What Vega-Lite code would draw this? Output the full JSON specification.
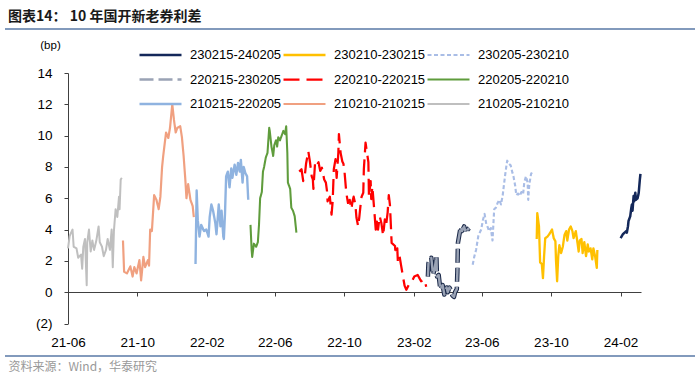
{
  "$schema": "https://vega.github.io/schema/vega-lite/v6.json",
  "autosize": "none",
  "width": 690,
  "height": 327,
  "padding": {"left": 5, "top": 29, "right": 5, "bottom": 25},
  "background": "white",
  "config": {"font": "Liberation Sans", "view": {"stroke": null}},
  "title": {"text": "图表14： 10 年国开新老券利差", "anchor": "start", "font": "Noto Sans CJK SC", "fontSize": 14, "fontWeight": "bold", "color": "#1a1a1a", "offset": 5, "dx": 3},
  "view": {"stroke": "#5a7aa6", "strokeWidth": 1.5, "strokeDash": [690, 327, 690, 327]},
  "datasets": {
    "d": [
      {"s": "210205-210210", "d": "2021-06-01", "v": 2.8},
      {"s": "210205-210210", "d": "2021-06-04", "v": 3.6},
      {"s": "210205-210210", "d": "2021-06-09", "v": 4.0},
      {"s": "210205-210210", "d": "2021-06-11", "v": 2.9},
      {"s": "210205-210210", "d": "2021-06-16", "v": 2.8},
      {"s": "210205-210210", "d": "2021-06-19", "v": 2.2},
      {"s": "210205-210210", "d": "2021-06-24", "v": 2.4},
      {"s": "210205-210210", "d": "2021-06-26", "v": 1.5},
      {"s": "210205-210210", "d": "2021-06-28", "v": 2.9},
      {"s": "210205-210210", "d": "2021-07-01", "v": 3.4},
      {"s": "210205-210210", "d": "2021-07-04", "v": 0.45},
      {"s": "210205-210210", "d": "2021-07-05", "v": 3.2},
      {"s": "210205-210210", "d": "2021-07-08", "v": 4.0},
      {"s": "210205-210210", "d": "2021-07-11", "v": 2.6},
      {"s": "210205-210210", "d": "2021-07-14", "v": 3.3},
      {"s": "210205-210210", "d": "2021-07-17", "v": 2.7},
      {"s": "210205-210210", "d": "2021-07-21", "v": 3.3},
      {"s": "210205-210210", "d": "2021-07-25", "v": 4.2},
      {"s": "210205-210210", "d": "2021-07-27", "v": 3.2},
      {"s": "210205-210210", "d": "2021-07-31", "v": 2.9},
      {"s": "210205-210210", "d": "2021-08-03", "v": 2.3},
      {"s": "210205-210210", "d": "2021-08-07", "v": 2.7},
      {"s": "210205-210210", "d": "2021-08-10", "v": 3.4},
      {"s": "210205-210210", "d": "2021-08-14", "v": 2.7},
      {"s": "210205-210210", "d": "2021-08-17", "v": 4.0},
      {"s": "210205-210210", "d": "2021-08-19", "v": 1.6},
      {"s": "210205-210210", "d": "2021-08-21", "v": 3.9},
      {"s": "210205-210210", "d": "2021-08-24", "v": 5.3},
      {"s": "210205-210210", "d": "2021-08-27", "v": 4.8},
      {"s": "210205-210210", "d": "2021-08-30", "v": 6.1},
      {"s": "210205-210210", "d": "2021-08-31", "v": 5.3},
      {"s": "210205-210210", "d": "2021-09-02", "v": 7.2},
      {"s": "210205-210210", "d": "2021-09-04", "v": 7.3},

      {"s": "210210-210215", "d": "2021-09-06", "v": 3.3},
      {"s": "210210-210215", "d": "2021-09-08", "v": 1.3},
      {"s": "210210-210215", "d": "2021-09-13", "v": 1.2},
      {"s": "210210-210215", "d": "2021-09-19", "v": 1.65},
      {"s": "210210-210215", "d": "2021-09-23", "v": 1.0},
      {"s": "210210-210215", "d": "2021-09-26", "v": 1.6},
      {"s": "210210-210215", "d": "2021-09-30", "v": 1.2},
      {"s": "210210-210215", "d": "2021-10-05", "v": 2.05},
      {"s": "210210-210215", "d": "2021-10-08", "v": 0.75},
      {"s": "210210-210215", "d": "2021-10-12", "v": 2.25},
      {"s": "210210-210215", "d": "2021-10-15", "v": 1.6},
      {"s": "210210-210215", "d": "2021-10-20", "v": 2.05},
      {"s": "210210-210215", "d": "2021-10-22", "v": 1.7},
      {"s": "210210-210215", "d": "2021-10-24", "v": 4.0},
      {"s": "210210-210215", "d": "2021-10-27", "v": 3.9},
      {"s": "210210-210215", "d": "2021-10-31", "v": 6.2},
      {"s": "210210-210215", "d": "2021-11-04", "v": 5.9},
      {"s": "210210-210215", "d": "2021-11-08", "v": 5.3},
      {"s": "210210-210215", "d": "2021-11-11", "v": 6.1},
      {"s": "210210-210215", "d": "2021-11-14", "v": 8.0},
      {"s": "210210-210215", "d": "2021-11-16", "v": 8.7},
      {"s": "210210-210215", "d": "2021-11-21", "v": 10.2},
      {"s": "210210-210215", "d": "2021-11-25", "v": 9.85},
      {"s": "210210-210215", "d": "2021-11-28", "v": 10.5},
      {"s": "210210-210215", "d": "2021-12-02", "v": 12.0},
      {"s": "210210-210215", "d": "2021-12-05", "v": 11.0},
      {"s": "210210-210215", "d": "2021-12-08", "v": 10.2},
      {"s": "210210-210215", "d": "2021-12-11", "v": 10.5},
      {"s": "210210-210215", "d": "2021-12-16", "v": 10.6},
      {"s": "210210-210215", "d": "2021-12-19", "v": 9.9},
      {"s": "210210-210215", "d": "2021-12-22", "v": 8.7},
      {"s": "210210-210215", "d": "2021-12-25", "v": 7.2},
      {"s": "210210-210215", "d": "2021-12-27", "v": 6.0},
      {"s": "210210-210215", "d": "2021-12-30", "v": 6.9},
      {"s": "210210-210215", "d": "2022-01-03", "v": 5.9},
      {"s": "210210-210215", "d": "2022-01-07", "v": 5.5},
      {"s": "210210-210215", "d": "2022-01-09", "v": 4.8},

      {"s": "210215-220205", "d": "2022-01-12", "v": 1.8},
      {"s": "210215-220205", "d": "2022-01-14", "v": 6.5},
      {"s": "210215-220205", "d": "2022-01-16", "v": 4.6},
      {"s": "210215-220205", "d": "2022-01-19", "v": 3.55},
      {"s": "210215-220205", "d": "2022-01-22", "v": 4.3},
      {"s": "210215-220205", "d": "2022-01-27", "v": 3.9},
      {"s": "210215-220205", "d": "2022-01-31", "v": 4.0},
      {"s": "210215-220205", "d": "2022-02-04", "v": 3.55},
      {"s": "210215-220205", "d": "2022-02-06", "v": 4.8},
      {"s": "210215-220205", "d": "2022-02-09", "v": 5.6},
      {"s": "210215-220205", "d": "2022-02-12", "v": 5.2},
      {"s": "210215-220205", "d": "2022-02-16", "v": 4.4},
      {"s": "210215-220205", "d": "2022-02-18", "v": 3.7},
      {"s": "210215-220205", "d": "2022-02-22", "v": 5.6},
      {"s": "210215-220205", "d": "2022-02-25", "v": 4.2},
      {"s": "210215-220205", "d": "2022-02-27", "v": 5.2},
      {"s": "210215-220205", "d": "2022-03-02", "v": 3.55},
      {"s": "210215-220205", "d": "2022-03-03", "v": 3.4},
      {"s": "210215-220205", "d": "2022-03-05", "v": 5.0},
      {"s": "210215-220205", "d": "2022-03-07", "v": 7.4},
      {"s": "210215-220205", "d": "2022-03-10", "v": 7.7},
      {"s": "210215-220205", "d": "2022-03-13", "v": 6.7},
      {"s": "210215-220205", "d": "2022-03-16", "v": 7.9},
      {"s": "210215-220205", "d": "2022-03-18", "v": 7.3},
      {"s": "210215-220205", "d": "2022-03-22", "v": 8.15},
      {"s": "210215-220205", "d": "2022-03-25", "v": 7.5},
      {"s": "210215-220205", "d": "2022-03-28", "v": 8.25},
      {"s": "210215-220205", "d": "2022-03-31", "v": 7.7},
      {"s": "210215-220205", "d": "2022-04-02", "v": 8.45},
      {"s": "210215-220205", "d": "2022-04-05", "v": 7.0},
      {"s": "210215-220205", "d": "2022-04-07", "v": 8.0},
      {"s": "210215-220205", "d": "2022-04-10", "v": 7.6},
      {"s": "210215-220205", "d": "2022-04-13", "v": 7.4},
      {"s": "210215-220205", "d": "2022-04-15", "v": 5.9},

      {"s": "220205-220210", "d": "2022-04-19", "v": 4.3},
      {"s": "220205-220210", "d": "2022-04-21", "v": 2.7},
      {"s": "220205-220210", "d": "2022-04-22", "v": 2.25},
      {"s": "220205-220210", "d": "2022-04-25", "v": 3.1},
      {"s": "220205-220210", "d": "2022-04-29", "v": 2.9},
      {"s": "220205-220210", "d": "2022-05-02", "v": 3.2},
      {"s": "220205-220210", "d": "2022-05-04", "v": 4.3},
      {"s": "220205-220210", "d": "2022-05-06", "v": 6.0},
      {"s": "220205-220210", "d": "2022-05-09", "v": 6.4},
      {"s": "220205-220210", "d": "2022-05-11", "v": 7.7},
      {"s": "220205-220210", "d": "2022-05-13", "v": 8.0},
      {"s": "220205-220210", "d": "2022-05-16", "v": 8.6},
      {"s": "220205-220210", "d": "2022-05-19", "v": 8.9},
      {"s": "220205-220210", "d": "2022-05-22", "v": 10.5},
      {"s": "220205-220210", "d": "2022-05-23", "v": 10.3},
      {"s": "220205-220210", "d": "2022-05-26", "v": 9.3},
      {"s": "220205-220210", "d": "2022-05-29", "v": 8.7},
      {"s": "220205-220210", "d": "2022-05-31", "v": 9.4},
      {"s": "220205-220210", "d": "2022-06-03", "v": 9.7},
      {"s": "220205-220210", "d": "2022-06-05", "v": 9.3},
      {"s": "220205-220210", "d": "2022-06-07", "v": 9.9},
      {"s": "220205-220210", "d": "2022-06-10", "v": 9.7},
      {"s": "220205-220210", "d": "2022-06-13", "v": 10.0},
      {"s": "220205-220210", "d": "2022-06-16", "v": 10.3},
      {"s": "220205-220210", "d": "2022-06-19", "v": 10.1},
      {"s": "220205-220210", "d": "2022-06-21", "v": 10.6},
      {"s": "220205-220210", "d": "2022-06-23", "v": 8.9},
      {"s": "220205-220210", "d": "2022-06-24", "v": 7.0},
      {"s": "220205-220210", "d": "2022-06-28", "v": 6.6},
      {"s": "220205-220210", "d": "2022-06-30", "v": 5.4},
      {"s": "220205-220210", "d": "2022-07-03", "v": 5.2},
      {"s": "220205-220210", "d": "2022-07-06", "v": 4.85},
      {"s": "220205-220210", "d": "2022-07-09", "v": 3.8},

      {"s": "220210-220215", "d": "2022-07-14", "v": 7.7},
      {"s": "220210-220215", "d": "2022-07-18", "v": 7.85},
      {"s": "220210-220215", "d": "2022-07-21", "v": 7.1},
      {"s": "220210-220215", "d": "2022-07-24", "v": 7.5},
      {"s": "220210-220215", "d": "2022-07-26", "v": 8.2},
      {"s": "220210-220215", "d": "2022-07-30", "v": 9.0},
      {"s": "220210-220215", "d": "2022-08-02", "v": 8.3},
      {"s": "220210-220215", "d": "2022-08-05", "v": 7.4},
      {"s": "220210-220215", "d": "2022-08-07", "v": 7.2},
      {"s": "220210-220215", "d": "2022-08-08", "v": 6.6},
      {"s": "220210-220215", "d": "2022-08-11", "v": 8.3},
      {"s": "220210-220215", "d": "2022-08-14", "v": 8.1},
      {"s": "220210-220215", "d": "2022-08-17", "v": 8.3},
      {"s": "220210-220215", "d": "2022-08-20", "v": 7.75},
      {"s": "220210-220215", "d": "2022-08-23", "v": 7.95},
      {"s": "220210-220215", "d": "2022-08-27", "v": 7.2},
      {"s": "220210-220215", "d": "2022-08-30", "v": 7.0},
      {"s": "220210-220215", "d": "2022-09-01", "v": 6.45},
      {"s": "220210-220215", "d": "2022-09-02", "v": 5.8},
      {"s": "220210-220215", "d": "2022-09-06", "v": 6.1},
      {"s": "220210-220215", "d": "2022-09-09", "v": 4.95},
      {"s": "220210-220215", "d": "2022-09-11", "v": 5.8},
      {"s": "220210-220215", "d": "2022-09-13", "v": 7.85},
      {"s": "220210-220215", "d": "2022-09-16", "v": 8.5},
      {"s": "220210-220215", "d": "2022-09-18", "v": 7.3},
      {"s": "220210-220215", "d": "2022-09-21", "v": 8.9},
      {"s": "220210-220215", "d": "2022-09-22", "v": 10.1},
      {"s": "220210-220215", "d": "2022-09-25", "v": 8.9},
      {"s": "220210-220215", "d": "2022-09-28", "v": 8.35},
      {"s": "220210-220215", "d": "2022-09-30", "v": 8.2},
      {"s": "220210-220215", "d": "2022-10-02", "v": 7.65},
      {"s": "220210-220215", "d": "2022-10-05", "v": 6.35},
      {"s": "220210-220215", "d": "2022-10-08", "v": 5.7},
      {"s": "220210-220215", "d": "2022-10-11", "v": 5.9},
      {"s": "220210-220215", "d": "2022-10-14", "v": 5.3},
      {"s": "220210-220215", "d": "2022-10-16", "v": 5.8},
      {"s": "220210-220215", "d": "2022-10-18", "v": 6.1},
      {"s": "220210-220215", "d": "2022-10-21", "v": 5.6},
      {"s": "220210-220215", "d": "2022-10-23", "v": 4.75},
      {"s": "220210-220215", "d": "2022-10-26", "v": 4.2},
      {"s": "220210-220215", "d": "2022-10-28", "v": 4.8},
      {"s": "220210-220215", "d": "2022-10-30", "v": 5.5},
      {"s": "220210-220215", "d": "2022-11-01", "v": 6.1},
      {"s": "220210-220215", "d": "2022-11-04", "v": 6.35},
      {"s": "220210-220215", "d": "2022-11-05", "v": 7.85},
      {"s": "220210-220215", "d": "2022-11-08", "v": 9.55},
      {"s": "220210-220215", "d": "2022-11-11", "v": 8.8},
      {"s": "220210-220215", "d": "2022-11-13", "v": 8.3},
      {"s": "220210-220215", "d": "2022-11-14", "v": 6.1},
      {"s": "220210-220215", "d": "2022-11-17", "v": 7.1},
      {"s": "220210-220215", "d": "2022-11-18", "v": 5.95},
      {"s": "220210-220215", "d": "2022-11-20", "v": 6.75},
      {"s": "220210-220215", "d": "2022-11-23", "v": 5.4},
      {"s": "220210-220215", "d": "2022-11-26", "v": 4.0},
      {"s": "220210-220215", "d": "2022-11-28", "v": 4.5},
      {"s": "220210-220215", "d": "2022-11-30", "v": 4.0},
      {"s": "220210-220215", "d": "2022-12-03", "v": 4.85},
      {"s": "220210-220215", "d": "2022-12-06", "v": 4.4},
      {"s": "220210-220215", "d": "2022-12-09", "v": 3.6},
      {"s": "220210-220215", "d": "2022-12-12", "v": 4.65},
      {"s": "220210-220215", "d": "2022-12-14", "v": 4.2},
      {"s": "220210-220215", "d": "2022-12-17", "v": 5.1},
      {"s": "220210-220215", "d": "2022-12-19", "v": 6.2},
      {"s": "220210-220215", "d": "2022-12-21", "v": 5.6},
      {"s": "220210-220215", "d": "2022-12-23", "v": 4.0},
      {"s": "220210-220215", "d": "2022-12-24", "v": 3.15},
      {"s": "220210-220215", "d": "2022-12-30", "v": 2.95},
      {"s": "220210-220215", "d": "2022-12-31", "v": 2.4},
      {"s": "220210-220215", "d": "2023-01-03", "v": 2.8},
      {"s": "220210-220215", "d": "2023-01-04", "v": 1.95},
      {"s": "220210-220215", "d": "2023-01-07", "v": 2.3},
      {"s": "220210-220215", "d": "2023-01-10", "v": 1.65},
      {"s": "220210-220215", "d": "2023-01-13", "v": 1.0},
      {"s": "220210-220215", "d": "2023-01-16", "v": 0.4},
      {"s": "220210-220215", "d": "2023-01-19", "v": 0.15},
      {"s": "220210-220215", "d": "2023-01-23", "v": 0.45},
      {"s": "220210-220215", "d": "2023-01-27", "v": 0.55},
      {"s": "220210-220215", "d": "2023-02-02", "v": 1.0},
      {"s": "220210-220215", "d": "2023-02-08", "v": 1.1},
      {"s": "220210-220215", "d": "2023-02-11", "v": 0.9},
      {"s": "220210-220215", "d": "2023-02-14", "v": 0.7},
      {"s": "220210-220215", "d": "2023-02-20", "v": 0.8},
      {"s": "220210-220215", "d": "2023-02-23", "v": 0.35},

      {"s": "220215-230205", "d": "2023-02-26", "v": 1.0},
      {"s": "220215-230205", "d": "2023-02-27", "v": 1.85},
      {"s": "220215-230205", "d": "2023-03-04", "v": 2.2},
      {"s": "220215-230205", "d": "2023-03-07", "v": 1.1},
      {"s": "220215-230205", "d": "2023-03-10", "v": 1.5},
      {"s": "220215-230205", "d": "2023-03-13", "v": 2.3},
      {"s": "220215-230205", "d": "2023-03-14", "v": 1.0},
      {"s": "220215-230205", "d": "2023-03-17", "v": 1.1},
      {"s": "220215-230205", "d": "2023-03-20", "v": 0.15},
      {"s": "220215-230205", "d": "2023-03-24", "v": 0.45},
      {"s": "220215-230205", "d": "2023-03-27", "v": -0.15},
      {"s": "220215-230205", "d": "2023-03-31", "v": 0.3},
      {"s": "220215-230205", "d": "2023-04-02", "v": 0.0},
      {"s": "220215-230205", "d": "2023-04-05", "v": 0.3},
      {"s": "220215-230205", "d": "2023-04-08", "v": 0.1},
      {"s": "220215-230205", "d": "2023-04-10", "v": -0.2},
      {"s": "220215-230205", "d": "2023-04-13", "v": -0.3},
      {"s": "220215-230205", "d": "2023-04-15", "v": 0.0},
      {"s": "220215-230205", "d": "2023-04-18", "v": 0.2},
      {"s": "220215-230205", "d": "2023-04-19", "v": 1.3},
      {"s": "220215-230205", "d": "2023-04-20", "v": 3.15},
      {"s": "220215-230205", "d": "2023-04-25", "v": 4.2},
      {"s": "220215-230205", "d": "2023-04-27", "v": 3.9},
      {"s": "220215-230205", "d": "2023-05-01", "v": 4.2},
      {"s": "220215-230205", "d": "2023-05-04", "v": 3.75},
      {"s": "220215-230205", "d": "2023-05-07", "v": 4.0},
      {"s": "220215-230205", "d": "2023-05-10", "v": 4.1},

      {"s": "230205-230210", "d": "2023-05-16", "v": 1.75},
      {"s": "230205-230210", "d": "2023-05-19", "v": 2.3},
      {"s": "230205-230210", "d": "2023-05-22", "v": 2.7},
      {"s": "230205-230210", "d": "2023-05-26", "v": 3.6},
      {"s": "230205-230210", "d": "2023-05-31", "v": 4.0},
      {"s": "230205-230210", "d": "2023-06-03", "v": 4.6},
      {"s": "230205-230210", "d": "2023-06-06", "v": 5.0},
      {"s": "230205-230210", "d": "2023-06-09", "v": 4.35},
      {"s": "230205-230210", "d": "2023-06-11", "v": 4.2},
      {"s": "230205-230210", "d": "2023-06-14", "v": 3.9},
      {"s": "230205-230210", "d": "2023-06-17", "v": 4.1},
      {"s": "230205-230210", "d": "2023-06-20", "v": 3.3},
      {"s": "230205-230210", "d": "2023-06-22", "v": 4.65},
      {"s": "230205-230210", "d": "2023-06-23", "v": 5.3},
      {"s": "230205-230210", "d": "2023-06-26", "v": 5.4},
      {"s": "230205-230210", "d": "2023-06-29", "v": 5.7},
      {"s": "230205-230210", "d": "2023-07-02", "v": 5.9},
      {"s": "230205-230210", "d": "2023-07-05", "v": 5.6},
      {"s": "230205-230210", "d": "2023-07-08", "v": 6.2},
      {"s": "230205-230210", "d": "2023-07-10", "v": 6.8},
      {"s": "230205-230210", "d": "2023-07-12", "v": 7.4},
      {"s": "230205-230210", "d": "2023-07-15", "v": 8.2},
      {"s": "230205-230210", "d": "2023-07-16", "v": 8.4},
      {"s": "230205-230210", "d": "2023-07-19", "v": 8.2},
      {"s": "230205-230210", "d": "2023-07-22", "v": 8.1},
      {"s": "230205-230210", "d": "2023-07-25", "v": 7.65},
      {"s": "230205-230210", "d": "2023-07-27", "v": 7.4},
      {"s": "230205-230210", "d": "2023-07-30", "v": 6.8},
      {"s": "230205-230210", "d": "2023-08-01", "v": 6.2},
      {"s": "230205-230210", "d": "2023-08-04", "v": 6.3},
      {"s": "230205-230210", "d": "2023-08-07", "v": 6.15},
      {"s": "230205-230210", "d": "2023-08-10", "v": 6.4},
      {"s": "230205-230210", "d": "2023-08-13", "v": 6.25},
      {"s": "230205-230210", "d": "2023-08-15", "v": 7.0},
      {"s": "230205-230210", "d": "2023-08-18", "v": 7.4},
      {"s": "230205-230210", "d": "2023-08-21", "v": 7.0},
      {"s": "230205-230210", "d": "2023-08-22", "v": 5.9},
      {"s": "230205-230210", "d": "2023-08-24", "v": 6.9},
      {"s": "230205-230210", "d": "2023-08-27", "v": 7.55},
      {"s": "230205-230210", "d": "2023-08-30", "v": 7.75},

      {"s": "230210-230215", "d": "2023-09-06", "v": 3.4},
      {"s": "230210-230215", "d": "2023-09-07", "v": 5.05},
      {"s": "230210-230215", "d": "2023-09-10", "v": 4.2},
      {"s": "230210-230215", "d": "2023-09-12", "v": 1.9},
      {"s": "230210-230215", "d": "2023-09-15", "v": 1.8},
      {"s": "230210-230215", "d": "2023-09-17", "v": 0.9},
      {"s": "230210-230215", "d": "2023-09-19", "v": 2.3},
      {"s": "230210-230215", "d": "2023-09-21", "v": 3.45},
      {"s": "230210-230215", "d": "2023-09-25", "v": 3.55},
      {"s": "230210-230215", "d": "2023-09-29", "v": 3.75},
      {"s": "230210-230215", "d": "2023-10-03", "v": 4.0},
      {"s": "230210-230215", "d": "2023-10-06", "v": 3.45},
      {"s": "230210-230215", "d": "2023-10-09", "v": 3.25},
      {"s": "230210-230215", "d": "2023-10-10", "v": 2.05},
      {"s": "230210-230215", "d": "2023-10-12", "v": 0.7},
      {"s": "230210-230215", "d": "2023-10-14", "v": 2.3},
      {"s": "230210-230215", "d": "2023-10-16", "v": 3.0},
      {"s": "230210-230215", "d": "2023-10-19", "v": 2.5},
      {"s": "230210-230215", "d": "2023-10-22", "v": 2.9},
      {"s": "230210-230215", "d": "2023-10-25", "v": 3.65},
      {"s": "230210-230215", "d": "2023-10-28", "v": 3.9},
      {"s": "230210-230215", "d": "2023-10-30", "v": 3.3},
      {"s": "230210-230215", "d": "2023-11-02", "v": 4.0},
      {"s": "230210-230215", "d": "2023-11-05", "v": 4.2},
      {"s": "230210-230215", "d": "2023-11-08", "v": 3.9},
      {"s": "230210-230215", "d": "2023-11-10", "v": 3.45},
      {"s": "230210-230215", "d": "2023-11-14", "v": 3.9},
      {"s": "230210-230215", "d": "2023-11-16", "v": 3.4},
      {"s": "230210-230215", "d": "2023-11-19", "v": 2.6},
      {"s": "230210-230215", "d": "2023-11-21", "v": 3.3},
      {"s": "230210-230215", "d": "2023-11-24", "v": 3.4},
      {"s": "230210-230215", "d": "2023-11-26", "v": 2.5},
      {"s": "230210-230215", "d": "2023-11-29", "v": 3.2},
      {"s": "230210-230215", "d": "2023-12-02", "v": 2.3},
      {"s": "230210-230215", "d": "2023-12-05", "v": 3.05},
      {"s": "230210-230215", "d": "2023-12-07", "v": 2.6},
      {"s": "230210-230215", "d": "2023-12-10", "v": 2.8},
      {"s": "230210-230215", "d": "2023-12-13", "v": 2.1},
      {"s": "230210-230215", "d": "2023-12-15", "v": 2.8},
      {"s": "230210-230215", "d": "2023-12-18", "v": 2.3},
      {"s": "230210-230215", "d": "2023-12-21", "v": 1.55},
      {"s": "230210-230215", "d": "2023-12-22", "v": 2.7},

      {"s": "230215-240205", "d": "2024-02-01", "v": 3.45},
      {"s": "230215-240205", "d": "2024-02-05", "v": 3.7},
      {"s": "230215-240205", "d": "2024-02-08", "v": 3.8},
      {"s": "230215-240205", "d": "2024-02-11", "v": 3.9},
      {"s": "230215-240205", "d": "2024-02-12", "v": 3.8},
      {"s": "230215-240205", "d": "2024-02-14", "v": 4.2},
      {"s": "230215-240205", "d": "2024-02-15", "v": 4.55},
      {"s": "230215-240205", "d": "2024-02-18", "v": 4.85},
      {"s": "230215-240205", "d": "2024-02-20", "v": 5.4},
      {"s": "230215-240205", "d": "2024-02-21", "v": 5.6},
      {"s": "230215-240205", "d": "2024-02-22", "v": 5.2},
      {"s": "230215-240205", "d": "2024-02-24", "v": 6.15},
      {"s": "230215-240205", "d": "2024-02-25", "v": 5.8},
      {"s": "230215-240205", "d": "2024-02-27", "v": 6.35},
      {"s": "230215-240205", "d": "2024-02-28", "v": 5.9},
      {"s": "230215-240205", "d": "2024-03-02", "v": 6.0},
      {"s": "230215-240205", "d": "2024-03-04", "v": 6.35},
      {"s": "230215-240205", "d": "2024-03-06", "v": 7.2},
      {"s": "230215-240205", "d": "2024-03-07", "v": 7.55}
    ]
  },
  "data": {"name": "d"},
  "layer": [
    {
      "transform": [{"filter": "datum.s == '220215-230205'"}],
      "mark": {"type": "line", "color": "#1c2a4a", "strokeWidth": 4.5, "strokeDash": [14, 5], "strokeJoin": "round"},
      "encoding": {
        "x": {"field": "d", "type": "temporal"},
        "y": {"field": "v", "type": "quantitative"}
      }
    },
    {
      "mark": {"type": "line", "strokeJoin": "round"},
      "encoding": {
        "x": {
          "field": "d", "type": "temporal",
          "scale": {"type": "utc", "domain": [{"year": 2021, "month": 6, "date": 1, "utc": true}, {"year": 2024, "month": 3, "date": 8, "utc": true}], "range": [63, 636]},
          "axis": {
            "values": [
              {"year": 2021, "month": 6, "date": 1, "utc": true},
              {"year": 2021, "month": 10, "date": 1, "utc": true},
              {"year": 2022, "month": 2, "date": 1, "utc": true},
              {"year": 2022, "month": 6, "date": 1, "utc": true},
              {"year": 2022, "month": 10, "date": 1, "utc": true},
              {"year": 2023, "month": 2, "date": 1, "utc": true},
              {"year": 2023, "month": 6, "date": 1, "utc": true},
              {"year": 2023, "month": 10, "date": 1, "utc": true},
              {"year": 2024, "month": 2, "date": 1, "utc": true}
            ],
            "labelExpr": "utcFormat(datum.value, '%y-%m')",
            "offset": -64, "grid": false,
            "domainColor": "#404040", "domainWidth": 1,
            "tickColor": "#404040", "tickSize": 4,
            "labelFont": "Liberation Sans", "labelFontSize": 13.5, "labelColor": "#000000",
            "labelPadding": 39, "labelFlush": false, "labelOverlap": false,
            "title": "资料来源：Wind，华泰研究",
            "titleFont": "Noto Sans CJK SC", "titleFontSize": 12, "titleFontWeight": "normal", "titleColor": "#999999",
            "titleX": 3, "titleY": 74, "titleAlign": "left", "titleAnchor": null, "titleBaseline": "middle"
          }
        },
        "y": {
          "field": "v", "type": "quantitative",
          "scale": {"domain": [-2, 14], "range": [294.5, 44], "nice": false, "zero": false},
          "axis": {
            "values": [-2, 0, 2, 4, 6, 8, 10, 12, 14],
            "labelExpr": "datum.value < 0 ? '(' + abs(datum.value) + ')' : datum.label",
            "offset": -63, "grid": false,
            "domainColor": "#404040", "tickColor": "#404040", "tickSize": 4,
            "labelFont": "Liberation Sans", "labelFontSize": 13.5, "labelColor": "#000000", "labelPadding": 12,
            "title": "(bp)", "titleAngle": 0, "titleX": -18, "titleY": 16,
            "titleAlign": "center", "titleBaseline": "middle",
            "titleFont": "Liberation Sans", "titleFontSize": 11.5, "titleFontWeight": "normal", "titleColor": "#000000"
          }
        },
        "color": {
          "field": "s", "type": "nominal",
          "scale": {
            "domain": ["230215-240205", "220215-230205", "210215-220205", "230210-230215", "220210-220215", "210210-210215", "230205-230210", "220205-220210", "210205-210210"],
            "range": ["#14285a", "#9aa3b5", "#8fb3e0", "#ffc000", "#ff0000", "#f0a080", "#a9bde6", "#5f9c3c", "#bfbfbf"]
          },
          "legend": {
            "title": null, "orient": "none", "legendX": 133, "legendY": 18, "columns": 3,
            "symbolType": "stroke", "symbolSize": 1764, "symbolStrokeWidth": 3, "clipHeight": 16,
            "labelFont": "Liberation Sans", "labelFontSize": 13, "labelColor": "#000000",
            "labelOffset": 7, "columnPadding": -8, "rowPadding": 8.5, "padding": 0
          }
        },
        "strokeDash": {
          "field": "s", "type": "nominal",
          "scale": {
            "domain": ["230215-240205", "220215-230205", "210215-220205", "230210-230215", "220210-220215", "210210-210215", "230205-230210", "220205-220210", "210205-210210"],
            "range": [[1, 0], [14, 5], [1, 0], [1, 0], [16, 7], [1, 0], [4, 2.5], [1, 0], [1, 0]]
          },
          "legend": {
            "title": null, "orient": "none", "legendX": 133, "legendY": 18, "columns": 3,
            "symbolType": "stroke", "symbolSize": 1764, "clipHeight": 16,
            "labelFont": "Liberation Sans", "labelFontSize": 13, "labelColor": "#000000",
            "labelOffset": 7, "columnPadding": -8, "rowPadding": 8.5, "padding": 0
          }
        },
        "strokeWidth": {
          "field": "s", "type": "nominal",
          "scale": {
            "domain": ["230215-240205", "220215-230205", "210215-220205", "230210-230215", "220210-220215", "210210-210215", "230205-230210", "220205-220210", "210205-210210"],
            "range": [2.5, 2, 3, 3, 3, 3, 2, 3, 3]
          },
          "legend": {
            "title": null, "orient": "none", "legendX": 133, "legendY": 18, "columns": 3,
            "symbolType": "stroke", "symbolSize": 1764, "clipHeight": 16,
            "labelFont": "Liberation Sans", "labelFontSize": 13, "labelColor": "#000000",
            "labelOffset": 7, "columnPadding": -8, "rowPadding": 8.5, "padding": 0
          }
        }
      }
    }
  ]
}
